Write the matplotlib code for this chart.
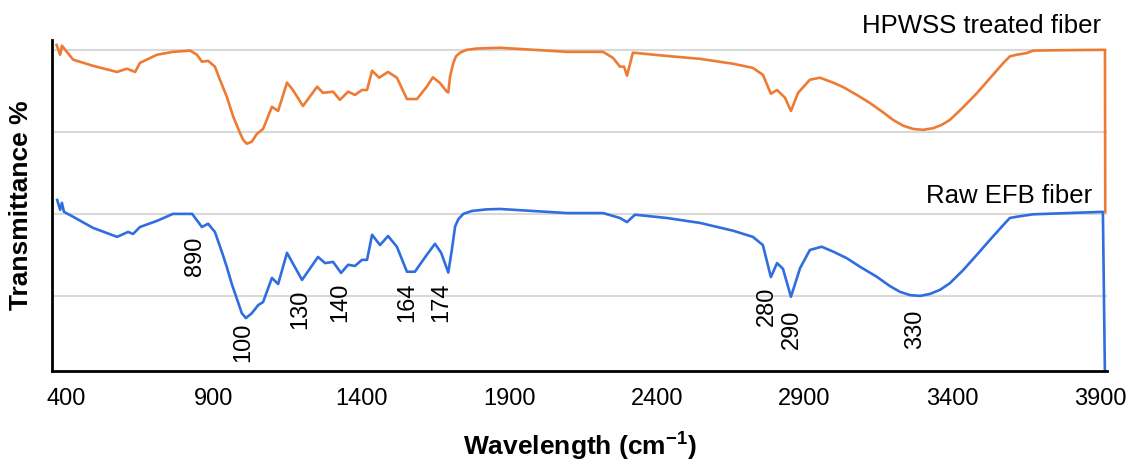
import matplotlib.pyplot as plt
import numpy as np

plt.rcParams['font.family'] = ['Liberation Sans', 'DejaVu Sans']
plt.rcParams['mathtext.fontset'] = 'custom'
plt.rcParams['mathtext.rm'] = 'Liberation Sans:bold'
plt.rcParams['mathtext.bf'] = 'Liberation Sans:bold'

# ---- data ----
treated_wn = [368, 380, 386, 424, 491, 573, 606, 634, 650, 708, 762, 820, 843, 860, 881, 904,
              921, 944, 966, 989, 1000, 1012, 1029, 1046, 1067, 1097, 1118, 1148, 1168, 1202,
              1250, 1270, 1304, 1327, 1355, 1378, 1402, 1419, 1436, 1460, 1490, 1520, 1554, 1588,
              1621, 1642, 1666, 1689, 1694, 1700, 1711, 1720, 1734, 1756, 1790, 1869, 2096, 2218,
              2252, 2275, 2289, 2299, 2319, 2434, 2546, 2658, 2725, 2759, 2786, 2807, 2834, 2854,
              2878, 2918, 2952, 2997, 3031, 3077, 3122, 3167, 3200, 3234, 3268, 3302, 3336, 3364,
              3392, 3437, 3483, 3528, 3573, 3595, 3618, 3652, 3674, 3765, 3917, 3918]
treated_t = [81.2, 78.8, 81.0, 77.6, 76.1, 74.6, 75.4, 74.6, 76.8, 78.8, 79.5, 79.8, 78.8, 77.1,
             77.3, 75.9, 72.7, 68.6, 63.7, 59.7, 58.0, 57.1, 57.6, 59.5, 60.7, 66.1, 65.1, 72.0,
             70.2, 66.3, 71.0, 69.5, 69.8, 67.8, 69.8, 69.0, 70.2, 70.2, 74.9, 73.2, 74.6, 73.2,
             68.0, 68.0, 71.0, 73.3, 71.9, 69.8, 69.6, 73.5, 76.8, 78.4, 79.3, 80.0, 80.3, 80.5,
             79.5, 79.5, 78.0, 75.9, 75.9, 73.7, 79.3, 78.5, 77.8, 76.6, 75.6, 73.9, 69.3, 70.2,
             68.3, 65.1, 69.5, 72.7, 73.2, 72.0, 70.9, 69.0, 67.0, 64.7, 62.9, 61.5, 60.7, 60.5,
             60.9, 61.7, 62.9, 66.0, 69.4, 73.1, 76.8, 78.4, 78.8, 79.2, 79.8, 79.9, 80.0, 40.5]

raw_wn = [370, 380, 386, 393, 424, 491, 573, 610, 627, 650, 708, 762, 827, 860, 881, 904, 931,
          944, 962, 978, 995, 1009, 1029, 1051, 1067, 1097, 1118, 1148, 1199, 1253, 1277, 1304,
          1331, 1355, 1378, 1402, 1419, 1436, 1463, 1490, 1520, 1554, 1581, 1621, 1649, 1670,
          1694, 1706, 1717, 1728, 1745, 1773, 1824, 1869, 2096, 2218, 2275, 2299, 2326, 2434,
          2546, 2658, 2725, 2759, 2786, 2807, 2827, 2854, 2885, 2918, 2958, 2997, 3043, 3088,
          3144, 3189, 3223, 3257, 3291, 3325, 3359, 3392, 3437, 3483, 3528, 3573, 3595, 3618,
          3674, 3910, 3917]
raw_t = [43.4, 41.0, 42.7, 40.5, 39.3, 36.6, 34.4, 35.6, 35.1, 36.8, 38.3, 40.0, 40.0, 36.8, 37.6,
         35.6, 30.0, 27.1, 22.7, 19.4, 15.8, 14.6, 15.8, 17.8, 18.5, 24.4, 22.9, 30.5, 23.9, 29.5,
         28.0, 28.3, 25.6, 27.6, 27.3, 28.8, 28.8, 34.9, 32.4, 34.6, 32.0, 25.9, 25.9, 30.0, 32.7,
         30.5, 25.7, 31.2, 36.9, 38.7, 40.0, 40.7, 41.1, 41.2, 40.2, 40.2, 39.0, 38.0, 39.8, 39.0,
         37.8, 35.9, 34.4, 32.4, 24.6, 28.0, 26.6, 19.8, 26.8, 31.2, 32.0, 30.8, 29.2, 27.1, 24.7,
         22.4, 21.0, 20.2, 20.0, 20.5, 21.5, 23.1, 26.3, 30.0, 33.7, 37.3, 39.0, 39.3, 39.9, 40.5,
         0.0]

peak_labels = ['890', '100', '130', '140', '164', '174', '280', '290', '330']
peak_wn = [837, 999, 1192, 1327, 1554, 1669, 2773, 2858, 3274]
peak_top = [34.4, 13.4, 21.5, 23.2, 23.2, 23.2, 22.2, 16.6, 16.6]

xticks = [400, 900, 1400, 1900, 2400, 2900, 3400, 3900]

fig = plt.figure(figsize=(11.36, 4.63), dpi=100)
ax = fig.add_axes([0.0458, 0.1987, 0.9287, 0.715])

ax.plot(treated_wn, treated_t, color='#EE7B33', lw=1.9, clip_on=False,
        solid_joinstyle='round')
ax.plot(raw_wn, raw_t, color='#2F6EDF', lw=1.9, solid_joinstyle='round')

for lab, w, t in zip(peak_labels, peak_wn, peak_top):
    ax.text(w, t, lab, rotation=90, ha='center', va='top', fontsize=17)

ax.text(3902, 84.1, 'HPWSS treated fiber', ha='right', va='baseline', fontsize=18.5, clip_on=False)
ax.text(3873, 42.7, 'Raw EFB fiber', ha='right', va='baseline', fontsize=18.5)

ax.set_xlim(352.6, 3924)
ax.set_ylim(1.7, 82.4)
ax.set_xticks(xticks)
ax.set_yticks([20, 40, 60, 80])
ax.set_yticklabels([])
ax.tick_params(axis='both', length=0)
ax.tick_params(axis='x', labelsize=17, pad=12)
ax.grid(axis='y', color='#d9d9d9', lw=1.5)
ax.set_axisbelow(True)

for s in ['top', 'right']:
    ax.spines[s].set_visible(False)
for s in ['left', 'bottom']:
    ax.spines[s].set_linewidth(2)
    ax.spines[s].set_color('black')

ax.set_xlabel(r'Wavelength (cm$^{-1}$)', fontsize=19, fontweight='bold', labelpad=14)
ax.set_ylabel('Transmittance %', fontsize=19, fontweight='bold', labelpad=10)

fig.savefig('out.png', dpi=100)
